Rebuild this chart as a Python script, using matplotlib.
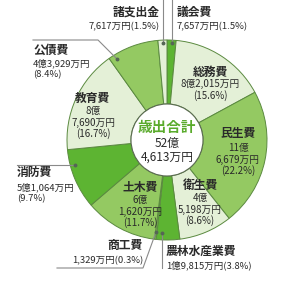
'''歳出の内訳 donut chart'''
import matplotlib
matplotlib.use('Agg')
from matplotlib import pyplot as plt
from matplotlib.patches import Circle

plt.rcParams['font.family'] = ['Noto Sans CJK JP', 'DejaVu Sans']

# data, clockwise from 12 o'clock (amounts in 万円)
names = ['議会費', '総務費', '民生費', '衛生費', '農林水産業費', '商工費',
         '土木費', '消防費', '教育費', '公債費', '諸支出金']
amounts = [7657, 82015, 116679, 45198, 19815, 1329,
           61620, 51064, 87690, 43929, 7617]
percents = [1.5, 15.6, 22.2, 8.6, 3.8, 0.3, 11.7, 9.7, 16.7, 8.4, 1.5]
center_title = '歳出合計'

dark, mid, light = '#5db432', '#94c962', '#e4f0d7'
shades = [dark, light, mid, light, dark, mid, mid, dark, light, mid, light]
text_col = '#2a2a2a'


def oku(v):
    return f'{v // 10000}億' if v >= 10000 else ''


def man(v):
    return f'{v % 10000:,}万円'


fig = plt.figure(figsize=(2.91, 2.95), dpi=100)
ax = fig.add_axes([0, 0, 1, 1])

cx, cy, R = 167, 140, 100
ax.pie(amounts, colors=shades, startangle=-90, counterclock=True,
       center=(cx, cy), radius=R,
       wedgeprops=dict(width=R - 36, edgecolor='#5b8a40', linewidth=0.7))
ax.add_patch(Circle((cx, cy), 36, facecolor='white', edgecolor='#5a6a50', lw=0.8, zorder=3))
ax.set_xlim(0, 291)
ax.set_ylim(295, 0)
ax.set_aspect('equal')
ax.axis('off')

total = sum(amounts)
ax.text(cx, 127, center_title, ha='center', va='center', fontsize=10.5,
        fontweight='bold', color='#5aab2c', zorder=4)
ax.text(cx, 143, oku(total), ha='center', va='center', fontsize=8.5, color=text_col, zorder=4)
ax.text(cx, 157, man(total), ha='center', va='center', fontsize=8.5, color=text_col, zorder=4)

# labels inside the ring: x, title y, first number y
inside = {'総務費': (210, 72, 84), '民生費': (238, 133, 148), '衛生費': (200, 185, 198),
          '土木費': (140, 187, 200), '教育費': (93, 98, 111)}
for name, (x, ty, ny) in inside.items():
    i = names.index(name)
    ax.text(x, ty, name, ha='center', va='center', fontsize=8.5, fontweight='bold', color=text_col)
    if name == '総務費':
        lines = [oku(amounts[i]) + man(amounts[i]), f'({percents[i]}%)']
    else:
        lines = [oku(amounts[i]), man(amounts[i]), f'({percents[i]}%)']
    for k, s in enumerate(lines):
        ax.text(x, ny + k * 11.5, s, ha='center', va='center', fontsize=7, color=text_col)

# labels outside with leader lines: x, title y, number y, align, split, line path
outside = {
    '議会費': (177, 12, 27, 'left', False, [(172, 0), (172, 43)]),
    '諸支出金': (160, 12, 27, 'right', False, [(163, 0), (163, 43)]),
    '公債費': (33, 50, 63, 'left', True, [(33, 40), (98, 40), (117, 59)]),
    '消防費': (17, 172, 187, 'left', True, [(17, 165), (75, 165)]),
    '商工費': (143, 245, 261, 'right', False, [(57, 268), (143, 268), (156, 232)]),
    '農林水産業費': (166, 251, 265, 'left', False, [(162, 268), (162, 233)]),
}
for name, (x, ty, ny, ha, split, path) in outside.items():
    i = names.index(name)
    ax.text(x, ty, name, ha=ha, va='center', fontsize=8.5, fontweight='bold', color=text_col)
    if split:
        lines = [oku(amounts[i]) + man(amounts[i]), f'({percents[i]}%)']
    else:
        lines = [oku(amounts[i]) + man(amounts[i]) + f'({percents[i]}%)']
    for k, s in enumerate(lines):
        ax.text(x, ny + k * 12, s, ha=ha, va='center', fontsize=6.8, color=text_col)
    xs, ys = zip(*path)
    ax.plot(xs, ys, color='#8a8a8a', lw=0.8, zorder=5)
    ax.plot(xs[-1], ys[-1], 'o', ms=1.8, color='#556655', zorder=5)

fig.savefig('out.png', dpi=100)
